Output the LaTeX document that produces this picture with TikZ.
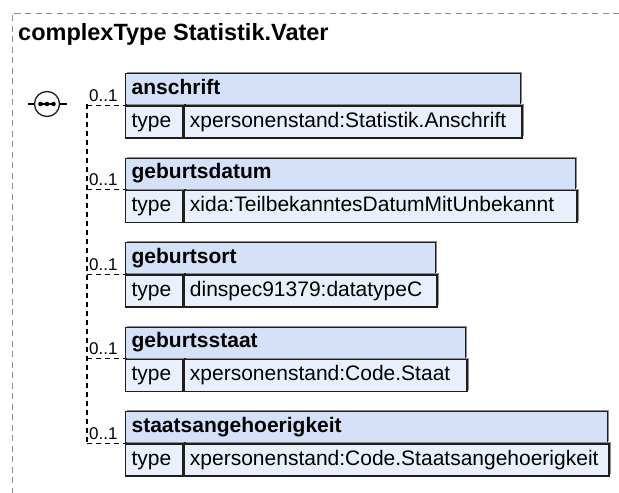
\documentclass[tikz,border=0pt]{standalone}
\usepackage{fontspec}
\setmainfont{Liberation Sans}
\usetikzlibrary{shadows}

\definecolor{headfill}{RGB}{212,225,248}
\definecolor{rowfill}{RGB}{233,240,252}
\definecolor{boxline}{RGB}{30,30,30}

\tikzset{
  cell/.style={anchor=north west, draw=boxline, line width=1.3pt, inner xsep=6pt,
    inner ysep=0pt, align=left, text height=15pt, text depth=4.5pt,
    drop shadow={shadow xshift=1.6pt, shadow yshift=1.6pt, fill=black!45, opacity=1}},
  headcell/.style={cell, fill=headfill, minimum height=31pt, text width=#1,
    font=\bfseries\fontsize{21}{24}\selectfont},
  keycell/.style={cell, fill=rowfill, minimum height=32pt, text width=45pt,
    font=\fontsize{21}{24}\selectfont},
  valcell/.style={cell, fill=rowfill, minimum height=32pt, text width=#1,
    font=\fontsize{21}{24}\selectfont},
  multlabel/.style={anchor=base west, inner sep=0pt, font=\fontsize{17}{20}\selectfont},
  optline/.style={line width=1.3pt, dash pattern=on 5pt off 4pt},
  borderline/.style={line width=1pt, draw=black!45, dash pattern=on 6pt off 4.5pt}
}

\begin{document}
\begin{tikzpicture}[x=1pt,y=-1pt]
\useasboundingbox (0,0) rectangle (619,493);

% frame and title
\draw[borderline] (619,13) -- (12,13) -- (12,493);
\node[anchor=base west, inner sep=0pt, font=\bfseries\fontsize{23.5}{26}\selectfont] (title) at (18,40) {complexType Statistik.Vater};

% sequence compositor
\node[circle, draw=boxline, line width=1.3pt, fill=white, minimum size=25pt, inner sep=0pt] (seq) at (47,104) {};
\draw[line width=1.2pt] ([xshift=-7pt]seq.center) -- ([xshift=7pt]seq.center);
\foreach \dx in {-6.5,0,6.5}
  \fill ([xshift=\dx pt]seq.center) circle (2.3pt);
\coordinate (seqIn) at (28,104);
\coordinate (seqOut) at (67,104);
\draw[line width=1.3pt] (seqIn) -- (seq.west);
\draw[line width=1.3pt] (seq.east) -- (seqOut);

% elements
\node[headcell=383pt] (anschriftHead) at (125,73) {anschrift};
\node[keycell] (anschriftKey) at (anschriftHead.south west) {type};
\node[valcell=326pt] (anschriftVal) at (anschriftKey.north east) {xpersonenstand:Statistik.Anschrift};

\node[headcell=438pt] (datumHead) at (125,157.5) {geburtsdatum};
\node[keycell] (datumKey) at (datumHead.south west) {type};
\node[valcell=381pt] (datumVal) at (datumKey.north east) {xida:TeilbekanntesDatumMitUnbekannt};

\node[headcell=298pt] (ortHead) at (125,242) {geburtsort};
\node[keycell] (ortKey) at (ortHead.south west) {type};
\node[valcell=241pt] (ortVal) at (ortKey.north east) {dinspec91379:datatypeC};

\node[headcell=328pt] (staatHead) at (125,326.5) {geburtsstaat};
\node[keycell] (staatKey) at (staatHead.south west) {type};
\node[valcell=271pt] (staatVal) at (staatKey.north east) {xpersonenstand:Code.Staat};

\node[headcell=470pt] (angehHead) at (125,411) {staatsangehoerigkeit};
\node[keycell] (angehKey) at (angehHead.south west) {type};
\node[valcell=413pt] (angehVal) at (angehKey.north east) {xpersonenstand:Code.Staatsangehoerigkeit};

% optional branches
\coordinate (branch) at (87,104);
\draw[optline] (branch) -- (branch |- angehHead.south west);
\foreach \el in {anschrift,datum,ort,staat,angeh}
  \draw[optline] (branch |- \el Head.south west) -- (\el Head.south west);
\foreach \el/\yy in {anschrift/101,datum/185.5,ort/270,staat/354.5,angeh/439}
  \node[multlabel] (\el Mult) at (89,\yy) {0..1};

\end{tikzpicture}
\end{document}
